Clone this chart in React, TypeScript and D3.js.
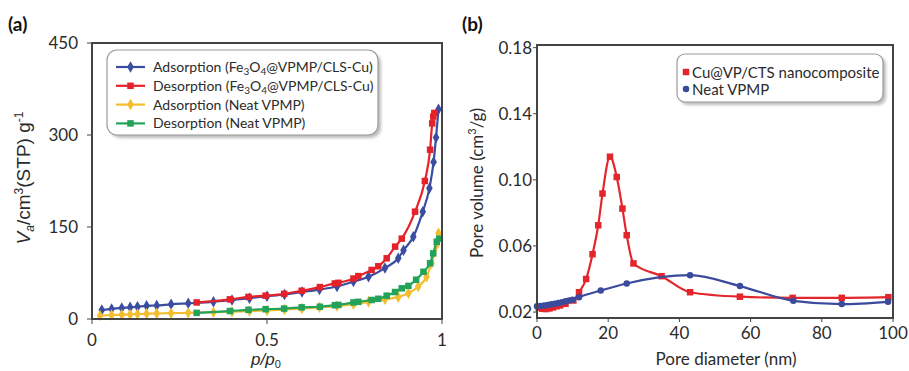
import * as d3 from "d3";

// panel (a): N2 isotherms
const adsFeP = [0.028, 0.056, 0.085, 0.109, 0.13, 0.156, 0.185, 0.226, 0.275, 0.347, 0.4, 0.45, 0.5, 0.55, 0.6, 0.65, 0.7, 0.747, 0.79, 0.837, 0.875, 0.89, 0.918, 0.945, 0.964, 0.976, 0.983, 0.99];
const adsFeV = [14.5, 16.5, 18, 19, 20, 21.5, 22, 24, 25.5, 28, 31, 34, 37, 40, 44, 48, 53, 61, 69, 83, 99, 112, 134, 175, 213, 256, 296, 342];
const desFeP = [0.299, 0.394, 0.447, 0.496, 0.549, 0.599, 0.651, 0.694, 0.704, 0.747, 0.761, 0.799, 0.818, 0.842, 0.866, 0.885, 0.923, 0.951, 0.966, 0.972, 0.975, 0.978];
const desFeV = [27, 32, 36, 38, 41, 46, 52, 58, 59, 66, 70, 80, 86, 99, 118, 131, 175, 225, 276, 319, 330, 336];
const adsNeatP = [0.023, 0.056, 0.085, 0.109, 0.13, 0.156, 0.185, 0.226, 0.275, 0.347, 0.4, 0.45, 0.5, 0.55, 0.6, 0.65, 0.7, 0.747, 0.79, 0.837, 0.875, 0.904, 0.932, 0.956, 0.97, 0.985, 0.99];
const adsNeatV = [5.5, 6.5, 7, 7.5, 8, 8.5, 9, 9.5, 10, 11, 12, 13, 14, 15.5, 17, 19, 21, 24, 28, 32, 36, 42, 53, 69, 91, 121, 140];
const desNeatP = [0.299, 0.394, 0.447, 0.496, 0.549, 0.599, 0.651, 0.694, 0.704, 0.747, 0.761, 0.799, 0.818, 0.842, 0.866, 0.885, 0.904, 0.926, 0.947, 0.966, 0.975, 0.985, 0.992];
const desNeatV = [10, 13, 15, 16, 17, 19, 20, 22.5, 23, 27, 28, 31, 33, 38, 44, 50, 54, 64, 77, 91, 107, 126, 131];
const ticksA_x = [0, 0.5, 1];
const ticksA_y = [0, 150, 300, 450];

// panel (b): pore size distribution
const cuD = [0.5, 1.5, 2.5, 3.5, 4.5, 5.5, 6.5, 8, 10.2, 11.8, 13.8, 15.6, 17.2, 18.4, 20.5, 22.4, 24, 25.2, 27.1, 35, 43, 57, 71.8, 85.6, 98.7];
const cuV = [0.0225, 0.022, 0.0218, 0.0222, 0.0228, 0.0235, 0.024, 0.025, 0.027, 0.032, 0.04, 0.055, 0.0725, 0.0917, 0.114, 0.1017, 0.0826, 0.0665, 0.0494, 0.0417, 0.032, 0.0293, 0.0286, 0.0286, 0.029];
const neatD = [0, 1, 2, 3, 4, 5, 6, 7, 8, 9, 10, 11.8, 17.9, 25.2, 43, 57, 72, 85.6, 98.6];
const neatV = [0.0235, 0.0237, 0.024, 0.0243, 0.0247, 0.025, 0.0255, 0.026, 0.0265, 0.027, 0.0275, 0.029, 0.033, 0.0373, 0.0423, 0.0357, 0.0268, 0.0248, 0.0262];
const ticksB_x = [0, 20, 40, 60, 80, 100];
const ticksB_y = [0.02, 0.06, 0.1, 0.14, 0.18];

const FONT = "Lato, 'Open Sans', sans-serif";
const ARIAL = "'Liberation Sans', Arial, sans-serif";
const TXT = "#2b2b2b";
const FRAME = "#444";

const zip = (xs: number[], ys: number[]) => xs.map((x, i) => [x, ys[i]] as [number, number]);

const seriesA = [
  { name: "adsFe", pts: zip(adsFeP, adsFeV), color: "#3a4da0", shape: "diamond" },
  { name: "desFe", pts: zip(desFeP, desFeV), color: "#e52229", shape: "square" },
  { name: "adsNeat", pts: zip(adsNeatP, adsNeatV), color: "#f2bd2e", shape: "diamond" },
  { name: "desNeat", pts: zip(desNeatP, desNeatV), color: "#23a259", shape: "square" },
];

const Marker = ({ x, y, shape, color, s }: { x: number; y: number; shape: string; color: string; s: number }) => {
  if (shape === "square") return <rect x={x - s / 2} y={y - s / 2} width={s} height={s} fill={color} />;
  if (shape === "circle") return <circle cx={x} cy={y} r={s / 2} fill={color} />;
  const d = d3.symbol(d3.symbolDiamond, s * s * 0.9)() || "";
  return <path d={d} transform={`translate(${x},${y})`} fill={color} />;
};

// chemical formula: "Fe" + sub 3 + "O" + sub 4
const Formula = () => (
  <>
    Fe<tspan fontSize={10} dy={3}>3</tspan>
    <tspan dy={-3}>O</tspan>
    <tspan fontSize={10} dy={3}>4</tspan>
    <tspan dy={-3}>@VPMP/CLS-Cu)</tspan>
  </>
);

function PanelA() {
  const x = d3.scaleLinear().domain([0, 1]).range([92, 442]);
  const y = d3.scaleLinear().domain([0, 450]).range([319, 43]);
  const line = d3.line<[number, number]>().x((d) => x(d[0])).y((d) => y(d[1])).curve(d3.curveMonotoneX);
  const legendRows = [
    { color: "#3a4da0", shape: "diamond", pre: "Adsorption (", formula: true },
    { color: "#e52229", shape: "square", pre: "Desorption (", formula: true },
    { color: "#f2bd2e", shape: "diamond", pre: "Adsorption (Neat VPMP)", formula: false },
    { color: "#23a259", shape: "square", pre: "Desorption (Neat VPMP)", formula: false },
  ];
  return (
    <g>
      <text x={8} y={31} fontFamily={FONT} fontWeight="bold" fontSize={19} fill="#111">(a)</text>
      {seriesA.map((s) => (
        <g key={s.name}>
          <path d={line(s.pts) || ""} fill="none" stroke={s.color} strokeWidth={2.2} />
          {s.pts.map((p, i) => (
            <Marker key={i} x={x(p[0])} y={y(p[1])} shape={s.shape} color={s.color} s={6.5} />
          ))}
        </g>
      ))}
      <rect x={92} y={43} width={350} height={276} fill="none" stroke={FRAME} strokeWidth={2} />
      {ticksA_x.map((t) => (
        <g key={t}>
          <line x1={x(t)} x2={x(t)} y1={319} y2={324} stroke={FRAME} />
          <text x={x(t)} y={346} textAnchor="middle" fontFamily={FONT} fontSize={17} fill={TXT}>{t}</text>
        </g>
      ))}
      {ticksA_y.map((t) => (
        <g key={t}>
          <line x1={87} x2={92} y1={y(t)} y2={y(t)} stroke={FRAME} />
          <text x={78} y={y(t) + 6} textAnchor="end" fontFamily={FONT} fontSize={17} fill={TXT}>{t}</text>
        </g>
      ))}
      <text x={266} y={365} textAnchor="middle" fontFamily={ARIAL} fontSize={17} fontStyle="italic" fill={TXT}>
        p/p<tspan fontSize={11} dy={3} fontStyle="normal">0</tspan>
      </text>
      <text transform="translate(30,178) rotate(-90)" textAnchor="middle" fontFamily={ARIAL} fontSize={19} fill={TXT}>
        <tspan fontStyle="italic">V</tspan>
        <tspan fontStyle="italic" fontSize={12} dy={4}>a</tspan>
        <tspan dy={-4}>/cm</tspan>
        <tspan fontSize={12} dy={-7}>3</tspan>
        <tspan dy={7}>(STP) g</tspan>
        <tspan fontSize={12} dy={-7}>-1</tspan>
      </text>
      <rect x={110} y={53} width={271} height={85} rx={10} fill="#bdbdbd" filter="url(#blur)" />
      <rect x={107} y={50} width={271} height={85} rx={10} fill="#fff" stroke="#9a9a9a" strokeWidth={1.2} />
      {legendRows.map((r, i) => {
        const cy = 67 + i * 18.8;
        return (
          <g key={i}>
            <line x1={116} x2={145} y1={cy} y2={cy} stroke={r.color} strokeWidth={2.2} />
            <Marker x={130.5} y={cy} shape={r.shape} color={r.color} s={6.5} />
            <text x={153} y={cy + 5} fontFamily={FONT} fontSize={14} fill={TXT}>
              {r.pre}
              {r.formula ? <Formula /> : null}
            </text>
          </g>
        );
      })}
    </g>
  );
}

function PanelB() {
  const x = d3.scaleLinear().domain([0, 100]).range([537, 893]);
  const y = d3.scaleLinear().domain([0.0164, 0.1816]).range([318, 45]);
  const line = d3.line<[number, number]>().x((d) => x(d[0])).y((d) => y(d[1])).curve(d3.curveMonotoneX);
  const series = [
    { name: "cu", pts: zip(cuD, cuV), color: "#e3262c", shape: "square", s: 6.5 },
    { name: "neat", pts: zip(neatD, neatV), color: "#3a4a9c", shape: "circle", s: 6.5 },
  ];
  return (
    <g>
      <text x={462} y={31} fontFamily={FONT} fontWeight="bold" fontSize={19} fill="#111">(b)</text>
      {series.map((s) => (
        <g key={s.name}>
          <path d={line(s.pts) || ""} fill="none" stroke={s.color} strokeWidth={2.2} />
          {s.pts.map((p, i) => (
            <Marker key={i} x={x(p[0])} y={y(p[1])} shape={s.shape} color={s.color} s={s.s} />
          ))}
        </g>
      ))}
      <rect x={537} y={45} width={356} height={273} fill="none" stroke={FRAME} strokeWidth={2} />
      {ticksB_x.map((t) => (
        <g key={t}>
          <line x1={x(t)} x2={x(t)} y1={318} y2={322} stroke={FRAME} />
          <text x={x(t)} y={339} textAnchor="middle" fontFamily={FONT} fontSize={17} fill={TXT}>{t}</text>
        </g>
      ))}
      {ticksB_y.map((t) => (
        <g key={t}>
          <line x1={533} x2={537} y1={y(t)} y2={y(t)} stroke={FRAME} />
          <text x={532} y={y(t) + 6} textAnchor="end" fontFamily={FONT} fontSize={17} fill={TXT}>{t.toFixed(2)}</text>
        </g>
      ))}
      <text x={726} y={365} textAnchor="middle" fontFamily={FONT} fontSize={17} fill={TXT}>Pore diameter (nm)</text>
      <text transform="translate(483,183) rotate(-90)" textAnchor="middle" fontFamily={FONT} fontSize={17} fill={TXT}>
        Pore volume (cm<tspan fontSize={11} dy={-7}>3</tspan><tspan dy={7}>/g)</tspan>
      </text>
      <rect x={680} y={57} width={206} height={48} rx={8} fill="#bdbdbd" filter="url(#blur)" />
      <rect x={677} y={54} width={206} height={48} rx={8} fill="#fff" stroke="#9a9a9a" strokeWidth={1.2} />
      <Marker x={686} y={72} shape="square" color="#e3262c" s={6.5} />
      <text x={692} y={77.5} fontFamily={FONT} fontSize={15} fill={TXT}>Cu@VP/CTS nanocomposite</text>
      <Marker x={686} y={89} shape="circle" color="#3a4a9c" s={6.5} />
      <text x={692} y={94.5} fontFamily={FONT} fontSize={15} fill={TXT}>Neat VPMP</text>
    </g>
  );
}

export default function App() {
  return (
    <svg width={909} height={371} style={{ position: "absolute", left: 0, top: 0, background: "#fff" }}>
      <defs>
        <filter id="blur" x="-10%" y="-10%" width="120%" height="130%">
          <feGaussianBlur stdDeviation="1.5" />
        </filter>
      </defs>
      <rect width={909} height={371} fill="#fff" />
      <PanelA />
      <PanelB />
    </svg>
  );
}
